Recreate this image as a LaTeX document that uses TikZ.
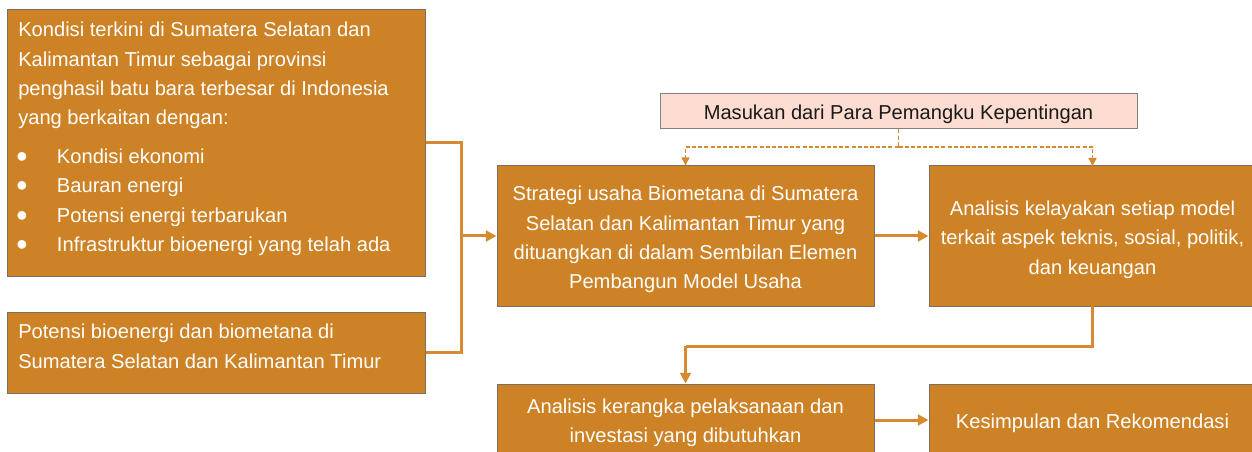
\documentclass[tikz,border=0pt]{standalone}
\usepackage{fontspec}
\setmainfont{Liberation Sans}
\usetikzlibrary{arrows.meta}
\definecolor{boxor}{RGB}{205,130,38}
\definecolor{lineor}{RGB}{214,137,48}
\definecolor{boxedge}{RGB}{125,110,95}
\definecolor{pinkf}{RGB}{253,221,209}
\definecolor{pinkedge}{RGB}{128,128,128}
\definecolor{darktxt}{RGB}{26,26,26}
\begin{document}
\begin{tikzpicture}[x=0.75pt,y=-0.75pt,
  obox/.style={draw=boxedge, line width=0.75pt, fill=boxor, inner sep=0pt},
  ctxt/.style={text=white, font=\fontsize{15.1}{22}\selectfont, align=center, inner sep=0pt},
  ltxt/.style={anchor=base west, inner sep=0pt, text=white,
    font=\fontsize{15.1}{22}\selectfont},
  bul/.style={anchor=base west, inner sep=0pt, text=white,
    font=\fontsize{24}{24}\selectfont},
  conn/.style={draw=lineor, line width=2.25pt},
  arr/.style={conn, -{Triangle[length=8pt,width=8pt]}},
  darr/.style={draw=lineor, line width=1.1pt, dash pattern=on 3pt off 1.6pt,
    -{Triangle[length=6pt,width=6pt]}},
  dline/.style={draw=lineor, line width=1.1pt, dash pattern=on 3pt off 1.6pt}]

\fill[white] (0,0) rectangle (1252,452);
\useasboundingbox (0,0) rectangle (1252,452);

% boxes
\node[obox, minimum width=313.5pt, minimum height=199.5pt] (b1) at (216,143) {};
\node[obox, minimum width=313.5pt, minimum height=60.75pt] (b2) at (216,352.5) {};
\node[draw=pinkedge, line width=0.75pt, fill=pinkf, inner sep=0pt,
  minimum width=357.75pt, minimum height=26.25pt] (mas) at (898.5,111.5) {};
\node[obox, minimum width=282.75pt, minimum height=105pt] (strat) at (685.5,236) {};
\node[obox, minimum width=259.5pt, minimum height=105pt] (kelay) at (1102,236) {};
\node[obox, minimum width=282.75pt, minimum height=54pt] (kera) at (685.5,420) {};
\node[obox, minimum width=259.5pt, minimum height=54pt] (kes) at (1102,420) {};

% centred texts
\node[ctxt, text=darktxt] (mast) at (898.5,114.5) {Masukan dari Para Pemangku Kepentingan};
\node[ctxt] (stratt) at (685.5,239.5)
  {Strategi usaha Biometana di Sumatera\\Selatan dan Kalimantan Timur yang\\dituangkan di dalam Sembilan Elemen\\Pembangun Model Usaha};
\node[ctxt] (kelayt) at (1092.5,239.5)
  {Analisis kelayakan setiap model\\terkait aspek teknis, sosial, politik,\\dan keuangan};
\node[ctxt] (kerat) at (685.5,423)
  {Analisis kerangka pelaksanaan dan\\investasi yang dibutuhkan};
\node[ctxt] (kest) at (1092.5,423.5) {Kesimpulan dan Rekomendasi};

% box 1 text
\node[ltxt] (t1a) at (18,37) {Kondisi terkini di Sumatera Selatan dan};
\node[ltxt] (t1b) at (18,66.5) {Kalimantan Timur sebagai provinsi};
\node[ltxt] (t1c) at (18,95.5) {penghasil batu bara terbesar di Indonesia};
\node[ltxt] (t1d) at (18,125) {yang berkaitan dengan:};
\node[bul] (u1) at (16,167.5) {•};
\node[ltxt] (v1) at (56.7,163.3) {Kondisi ekonomi};
\node[bul] (u2) at (16,196.9) {•};
\node[ltxt] (v2) at (56.7,192.7) {Bauran energi};
\node[bul] (u3) at (16,226.5) {•};
\node[ltxt] (v3) at (56.7,222.3) {Potensi energi terbarukan};
\node[bul] (u4) at (16,255.9) {•};
\node[ltxt] (v4) at (56.7,251.7) {Infrastruktur bioenergi yang telah ada};

% box 2 text
\node[ltxt] (t2a) at (18,338.3) {Potensi bioenergi dan biometana di};
\node[ltxt] (t2b) at (18,368.3) {Sumatera Selatan dan Kalimantan Timur};

% junction coordinates
\coordinate (j1) at (461,143);
\coordinate (j2) at (461,352.5);
\coordinate (jm) at (461,236);
\coordinate (dj) at (898.5,147);
\coordinate (dl) at (685.5,147);
\coordinate (dr) at (1092.5,147);
\coordinate (kt) at (1092.5,166);
\coordinate (kb) at (1092.5,306);
\coordinate (k1) at (685.5,346);

% connectors
\draw[conn] (b1.east) -- (j1) -- (j2) -- (b2.east);
\draw[arr] (jm) -- (strat.west);
\draw[arr] (strat.east) -- (kelay.west);
\draw[dline] (mas.south) -- (dj);
\draw[darr] (dj) -- (dl) -- (strat.north);
\draw[darr] (dj) -- (dr) -- (kt);
\draw[conn] (kb) |- (k1);
\draw[arr] (k1) -- (kera.north);
\draw[arr] (kera.east) -- (kes.west);
\end{tikzpicture}
\end{document}
